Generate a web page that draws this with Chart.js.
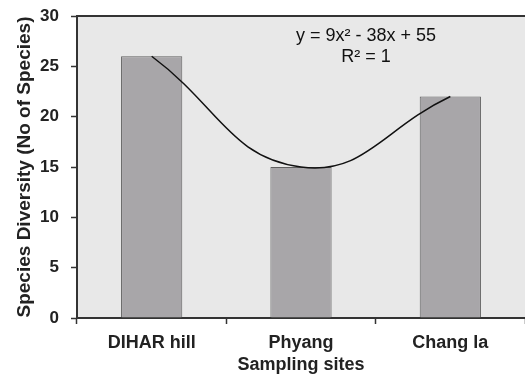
<!DOCTYPE html>
<html>
<head>
<meta charset="utf-8">
<script src="https://cdn.jsdelivr.net/npm/chart.js@4"></script>
<style>
  html, body { margin: 0; padding: 0; background: #fff; overflow: hidden; }
  #wrap { width: 525px; height: 379px; }
</style>
</head>
<body>
<div id="wrap"><canvas id="grafico" width="525" height="379"></canvas></div>
<script>
// dados
var sitios = ['DIHAR hill', 'Phyang', 'Chang la'];
var diversidade = [26, 15, 22];
var ticksY = [0, 5, 10, 15, 20, 25, 30];
var equacao = ['y = 9x\u00B2 - 38x + 55', 'R\u00B2 = 1'];

var fonte = '"Liberation Sans", Arial, sans-serif';

// fundo cinza da area do grafico + linha de cima + texto da equacao
var fundoPlot = {
    id: 'fundoPlot',
    beforeDraw: function (chart) {
        var a = chart.chartArea;
        var ctx = chart.ctx;
        ctx.save();
        ctx.fillStyle = '#e8e8e8';
        ctx.fillRect(a.left, a.top, a.right - a.left, a.bottom - a.top);
        ctx.strokeStyle = '#333';
        ctx.lineWidth = 2;
        ctx.beginPath();
        ctx.moveTo(a.left, a.top);
        ctx.lineTo(a.right, a.top);
        ctx.stroke();
        ctx.restore();
    },
    afterDraw: function (chart) {
        var a = chart.chartArea;
        var ctx = chart.ctx;
        var cx = a.left + (a.right - a.left) * 0.645;
        ctx.save();
        ctx.fillStyle = '#111';
        ctx.font = '18px ' + fonte;
        ctx.textAlign = 'center';
        ctx.textBaseline = 'middle';
        ctx.fillText(equacao[0], cx, a.top + 20);
        ctx.fillText(equacao[1], cx, a.top + 41);
        ctx.restore();
    }
};

var ctx = document.getElementById('grafico').getContext('2d');
var chart = new Chart(ctx, {
    type: 'bar',
    data: {
        labels: sitios,
        datasets: [{
            type: 'line',
            label: 'Tendência',
            data: diversidade,
            borderColor: '#111',
            borderWidth: 1.5,
            tension: 0.45,
            pointRadius: 0,
            fill: false,
            order: 0
        },
        {
            label: 'Diversidade',
            data: diversidade,
            backgroundColor: '#a8a6a9',
            borderColor: '#606060',
            borderWidth: 1,
            categoryPercentage: 1,
            barPercentage: 0.41,
            order: 1
        }]
    },
    options: {
        responsive: false,
        animation: false,
        layout: { padding: { top: 16, right: 0, left: 0, bottom: 0 } },
        plugins: {
            legend: { display: false },
            tooltip: { enabled: false }
        },
        scales: {
            x: {
                grid: {
                    offset: true,
                    drawOnChartArea: false,
                    tickLength: 6,
                    color: '#333',
                    tickWidth: 1.5
                },
                border: { color: '#333', width: 2 },
                ticks: {
                    color: '#222',
                    font: { family: fonte, size: 18, weight: 'bold' },
                    padding: 8
                },
                title: {
                    display: true,
                    text: 'Sampling sites',
                    color: '#222',
                    font: { family: fonte, size: 18, weight: 'bold' },
                    padding: { top: 0, bottom: 3 }
                },
                afterFit: function (scale) {
                    scale.height = 61;
                    scale.paddingLeft = 0;
                    scale.paddingRight = 0;
                }
            },
            y: {
                min: 0,
                max: 30,
                afterBuildTicks: function (scale) {
                    scale.ticks = ticksY.map(function (v) { return { value: v }; });
                },
                grid: {
                    drawOnChartArea: false,
                    tickLength: 6,
                    color: '#333',
                    tickWidth: 1.5
                },
                border: { color: '#333', width: 2 },
                ticks: {
                    color: '#222',
                    font: { family: fonte, size: 17, weight: 'bold' },
                    padding: 12
                },
                title: {
                    display: true,
                    text: 'Species Diversity (No of Species)',
                    color: '#222',
                    font: { family: fonte, size: 19, weight: 'bold' },
                    padding: { top: 13, bottom: 0 }
                },
                afterFit: function (scale) {
                    scale.width = 77;
                    scale.paddingTop = 0;
                    scale.paddingBottom = 0;
                }
            }
        }
    },
    plugins: [fundoPlot]
});
</script>
</body>
</html>
